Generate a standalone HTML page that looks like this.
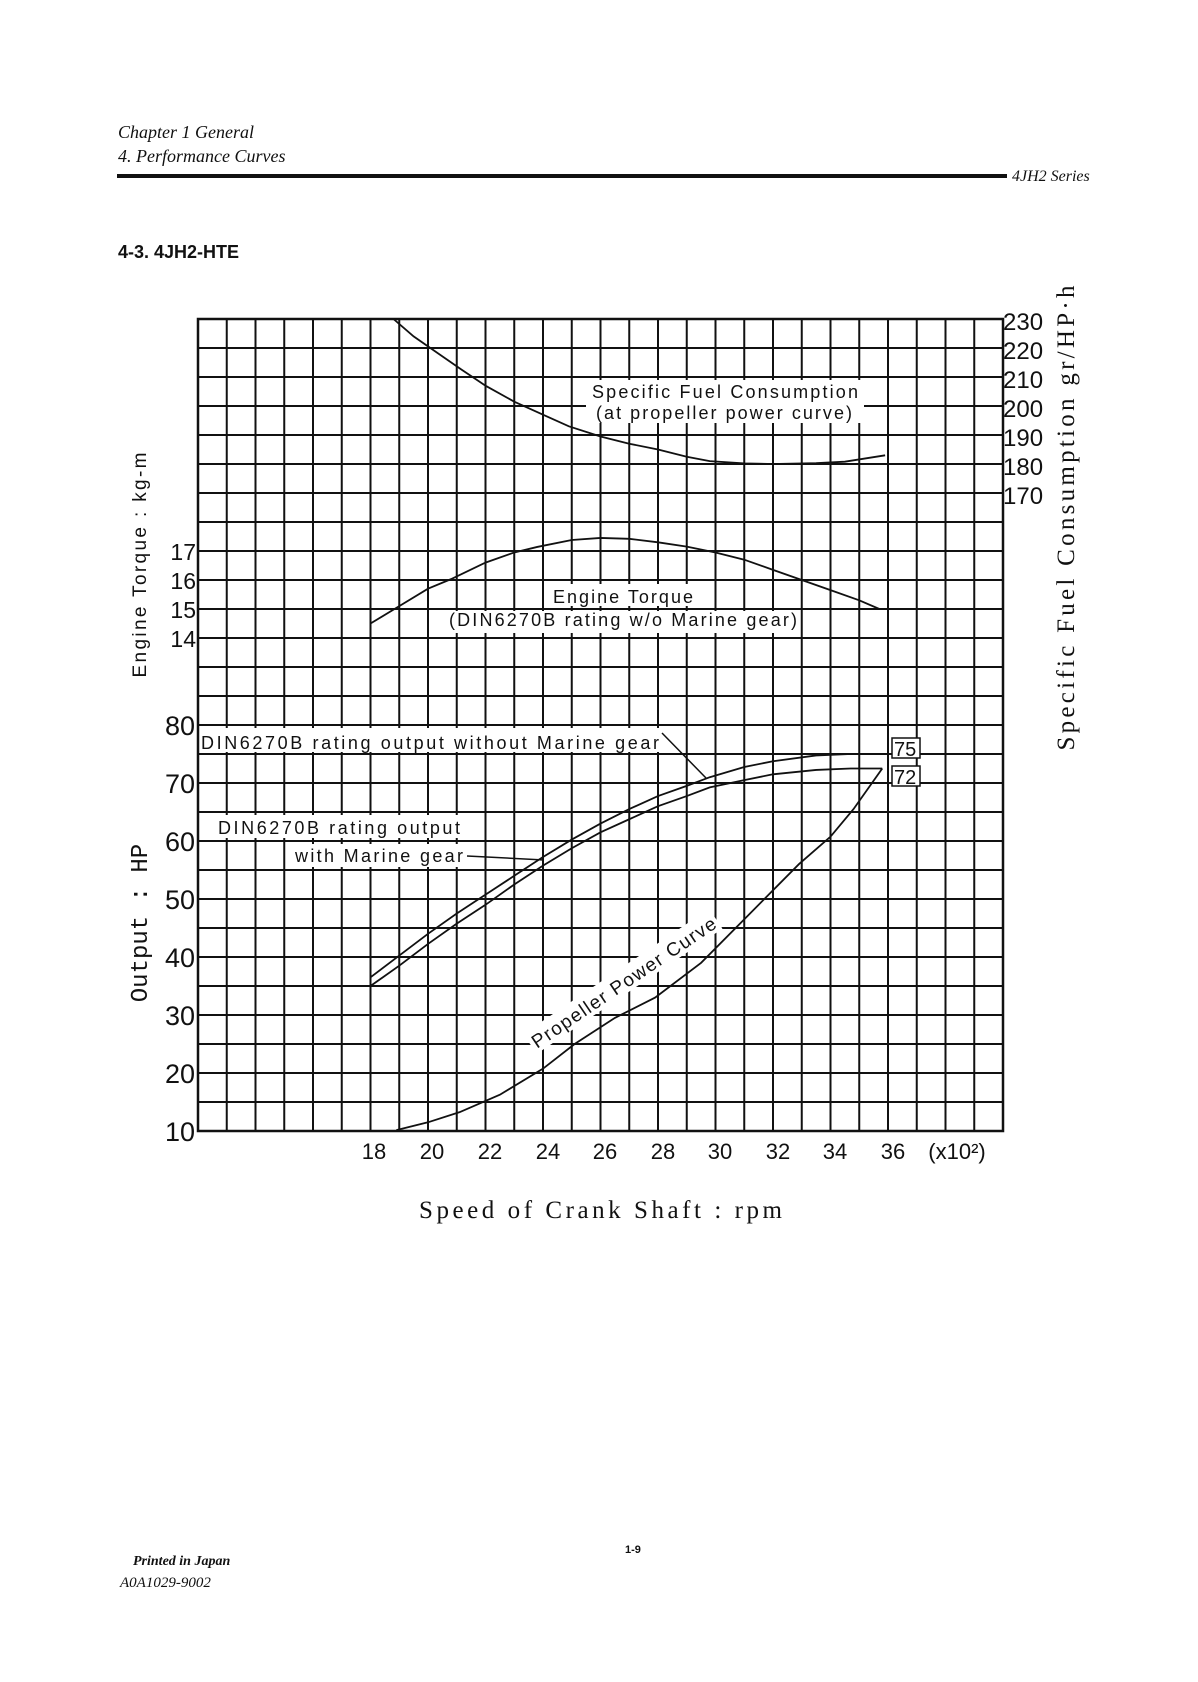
<!DOCTYPE html>
<html><head><meta charset="utf-8"><style>
html,body{margin:0;padding:0;background:#fff;}
svg{display:block;}
text{fill:#111;}
</style></head><body>
<svg width="1198" height="1682" viewBox="0 0 1198 1682" xmlns="http://www.w3.org/2000/svg">
<!-- header -->
<text x="118" y="138" font-family="Liberation Serif, serif" font-style="italic" font-size="18">Chapter 1  General</text>
<text x="118" y="162" font-family="Liberation Serif, serif" font-style="italic" font-size="18">4.  Performance  Curves</text>
<rect x="117" y="174" width="890" height="4" fill="#111"/>
<text x="1012" y="181" font-family="Liberation Serif, serif" font-style="italic" font-size="16">4JH2  Series</text>
<text x="118" y="258" font-family="Liberation Sans, sans-serif" font-weight="bold" font-size="18">4-3. 4JH2-HTE</text>

<!-- grid -->
<g stroke="#111" stroke-width="2" fill="none">
<path d="M198 319V1131M226.75 319V1131M255.5 319V1131M284.25 319V1131M313 319V1131M341.75 319V1131M370.5 319V1131M399.25 319V1131M428 319V1131M456.75 319V1131M485.5 319V1131M514.25 319V1131M543 319V1131M571.75 319V1131M600.5 319V1131M629.25 319V1131M658 319V1131M686.75 319V1131M715.5 319V1131M744.25 319V1131M773 319V1131M801.75 319V1131M830.5 319V1131M859.25 319V1131M888 319V1131M916.75 319V1131M945.5 319V1131M974.25 319V1131M1003 319V1131"/>
<path d="M198 319H1003M198 348H1003M198 377H1003M198 406H1003M198 435H1003M198 464H1003M198 493H1003M198 522H1003M198 551H1003M198 580H1003M198 609H1003M198 638H1003M198 667H1003M198 696H1003M198 725H1003M198 754H1003M198 783H1003M198 812H1003M198 841H1003M198 870H1003M198 899H1003M198 928H1003M198 957H1003M198 986H1003M198 1015H1003M198 1044H1003M198 1073H1003M198 1102H1003M198 1131H1003"/>
<rect x="198" y="319" width="805" height="812" stroke-width="2.5"/>
</g>

<!-- white label boxes -->
<g fill="#fff">
<rect x="586" y="380" width="278" height="43"/>
<rect x="548" y="584" width="149" height="22"/>
<rect x="446" y="611" width="354" height="22"/>
<rect x="200" y="728" width="462" height="24"/>
<rect x="206" y="815" width="259" height="23"/>
<rect x="290" y="844" width="176" height="23"/>
<rect x="-112" y="-14" width="224" height="24" transform="translate(624 983) rotate(-34)"/>
</g>
<g fill="#fff" stroke="#111" stroke-width="1.5">
<rect x="892" y="738" width="28" height="20"/>
<rect x="892" y="766" width="28" height="20"/>
</g>

<!-- curves -->
<g transform="translate(198 319) scale(28.75 29)" fill="none" stroke="#111">
<polyline vector-effect="non-scaling-stroke" stroke-width="1.8" points="6.8,0 7.5,0.6 8.3,1.15 9.16,1.74 10,2.3 11,2.85 12,3.3 12.9,3.7 14,4.05 15,4.3 16,4.5 17,4.75 17.8,4.9 19,4.98 20,5.0 21.5,4.97 22.5,4.92 23.9,4.7"/>
<polyline vector-effect="non-scaling-stroke" stroke-width="1.8" points="6,10.5 7,9.9 8,9.3 8.8,8.97 10,8.4 11,8.05 11.8,7.86 13,7.62 14,7.55 15,7.58 16,7.7 17,7.85 18,8.05 19,8.3 20,8.65 21,9.0 22,9.35 23,9.7 23.7,10.0"/>
<polyline vector-effect="non-scaling-stroke" stroke-width="1.8" points="6,22.7 7,21.95 8,21.2 9,20.5 10,19.85 11,19.2 12,18.55 13,17.95 14,17.4 15,16.9 16,16.45 17,16.1 17.8,15.8 19,15.45 20,15.25 21.5,15.05 22.7,15.0 24,15.0"/>
<polyline vector-effect="non-scaling-stroke" stroke-width="1.8" points="6,23.0 7,22.3 8,21.55 9,20.85 10,20.2 11,19.5 12,18.85 13,18.25 14,17.7 15,17.25 16,16.8 17,16.45 17.8,16.15 19,15.9 20,15.7 21.5,15.55 22.7,15.5 23.8,15.5"/>
<polyline vector-effect="non-scaling-stroke" stroke-width="1.8" points="6.9,27.97 8,27.7 9.1,27.35 10.5,26.75 12,25.85 13.1,25.0 14.5,24.1 15.9,23.4 17.5,22.2 18.9,20.8 20,19.7 20.9,18.8 22,17.85 22.8,16.9 23.8,15.5"/>
</g>
<!-- leaders -->
<g stroke="#111" stroke-width="1.5" fill="none">
<path d="M662 733L706 778"/>
<path d="M467 856L544 860"/>
</g>

<!-- chart labels -->
<g font-family="Liberation Sans, sans-serif" font-size="18">
<text x="592" y="398" textLength="266">Specific Fuel Consumption</text>
<text x="596" y="419" textLength="256">(at propeller power curve)</text>
<text x="553" y="603" textLength="140">Engine Torque</text>
<text x="449" y="626" textLength="348">(DIN6270B rating w/o Marine gear)</text>
<text x="201" y="749" textLength="458">DIN6270B rating output without Marine gear</text>
<text x="218" y="834" textLength="242">DIN6270B rating output</text>
<text x="295" y="862" textLength="168">with Marine gear</text>
<text x="0" y="6" text-anchor="middle" font-size="19" textLength="218" transform="translate(624 983) rotate(-34)">Propeller Power Curve</text>
<text x="894" y="756" font-size="20">75</text>
<text x="894" y="784" font-size="20">72</text>
</g>

<!-- left axes -->
<g font-family="Liberation Sans, sans-serif" font-size="23" text-anchor="end">
<text x="196" y="560">17</text>
<text x="196" y="589">16</text>
<text x="196" y="618">15</text>
<text x="196" y="647">14</text>
</g>
<g font-family="Liberation Sans, sans-serif" font-size="27" text-anchor="end">
<text x="195" y="735">80</text>
<text x="195" y="793">70</text>
<text x="195" y="851">60</text>
<text x="195" y="909">50</text>
<text x="195" y="967">40</text>
<text x="195" y="1025">30</text>
<text x="195" y="1083">20</text>
<text x="195" y="1141">10</text>
</g>
<text transform="translate(146 565) rotate(-90)" text-anchor="middle" font-family="Liberation Sans, sans-serif" font-size="19" textLength="225">Engine Torque  :  kg-m</text>
<text transform="translate(147 923) rotate(-90)" text-anchor="middle" font-family="Liberation Mono, monospace" font-size="24">Output : HP</text>

<!-- right axis -->
<g font-family="Liberation Sans, sans-serif" font-size="24">
<text x="1003" y="330">230</text>
<text x="1003" y="359">220</text>
<text x="1003" y="388">210</text>
<text x="1003" y="417">200</text>
<text x="1003" y="446">190</text>
<text x="1003" y="475">180</text>
<text x="1003" y="504">170</text>
</g>
<text transform="translate(1074 518) rotate(-90)" text-anchor="middle" font-family="Liberation Serif, serif" font-size="25" textLength="465">Specific  Fuel  Consumption   gr/HP·h</text>

<!-- x axis -->
<g font-family="Liberation Sans, sans-serif" font-size="22" text-anchor="middle">
<text x="374" y="1159">18</text>
<text x="432" y="1159">20</text>
<text x="490" y="1159">22</text>
<text x="548" y="1159">24</text>
<text x="605" y="1159">26</text>
<text x="663" y="1159">28</text>
<text x="720" y="1159">30</text>
<text x="778" y="1159">32</text>
<text x="835" y="1159">34</text>
<text x="893" y="1159">36</text>
<text x="957" y="1159">(x10²)</text>
</g>
<text x="419" y="1218" font-family="Liberation Serif, serif" font-size="25" textLength="363">Speed of Crank Shaft : rpm</text>

<!-- footer -->
<text x="133" y="1565" font-family="Liberation Serif, serif" font-style="italic" font-weight="bold" font-size="14">Printed in Japan</text>
<text x="120" y="1587" font-family="Liberation Serif, serif" font-style="italic" font-size="15">A0A1029-9002</text>
<text x="625" y="1553" font-family="Liberation Sans, sans-serif" font-weight="bold" font-size="11">1-9</text>
</svg>
</body></html>
